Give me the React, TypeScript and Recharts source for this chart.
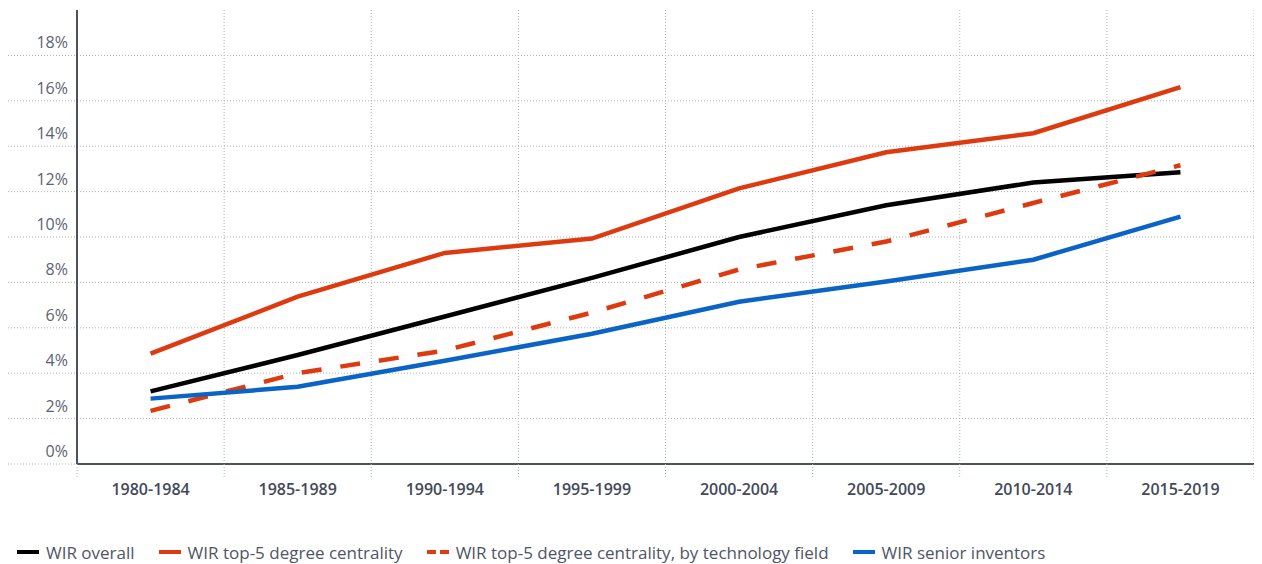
import React from 'react';
import { LineChart, Line, XAxis, YAxis, CartesianGrid, ReferenceLine } from 'recharts';

const periods = ['1980-1984', '1985-1989', '1990-1994', '1995-1999', '2000-2004', '2005-2009', '2010-2014', '2015-2019'];

const wirOverall = [3.2, 4.8, 6.5, 8.2, 10.0, 11.4, 12.4, 12.85];
const wirTop5 = [4.86, 7.37, 9.3, 9.93, 12.14, 13.73, 14.57, 16.6];
const wirTop5ByField = [2.34, 4.0, 5.0, 6.67, 8.57, 9.8, 11.5, 13.16];
const wirSenior = [2.88, 3.4, 4.55, 5.74, 7.15, 8.04, 9.0, 10.9];

const yTicks = [0, 2, 4, 6, 8, 10, 12, 14, 16, 18];

const series = [
  { key: 'overall', name: 'WIR overall', color: '#000000', dash: undefined },
  { key: 'top5', name: 'WIR top-5 degree centrality', color: '#de3a10', dash: undefined },
  { key: 'top5field', name: 'WIR top-5 degree centrality, by technology field', color: '#de3a10', dash: '20 19' },
  { key: 'senior', name: 'WIR senior inventors', color: '#0a64c6', dash: undefined },
];

// points sit in the middle of each period band, band edges are the integers
const data = periods.map((p, i) => ({
  pos: i + 0.5,
  period: p,
  overall: wirOverall[i],
  top5: wirTop5[i],
  top5field: wirTop5ByField[i],
  senior: wirSenior[i],
}));

const bandEdges = periods.map((_, i) => i).concat(periods.length);
const xTicks = bandEdges.concat(periods.map((_, i) => i + 0.5)).sort((a, b) => a - b);

const FONT = '"Open Sans", "Noto Sans", sans-serif';
const GRID = '#aeb2b9';
const AXIS = '#4b5263';

const YTick = (props: any) => {
  const { x, y, payload } = props;
  return (
    <text x={x + 60} y={y - 7} textAnchor="end" fill="#5d6372" fontSize={16} fontFamily={FONT}>
      {payload.value}%
    </text>
  );
};

// integer ticks = band edges (short dotted mark), half ticks = period label
const XTick = (props: any) => {
  const { x, y, payload } = props;
  const v = payload.value as number;
  if (Number.isInteger(v)) {
    return <line x1={x} x2={x} y1={y} y2={y + 13} stroke={GRID} strokeDasharray="1 2" />;
  }
  return (
    <text x={x} y={y + 20} dy="0.71em" textAnchor="middle" fill="#434a59" fontSize={16} fontWeight={600} fontFamily={FONT}>
      {periods[Math.floor(v)]}
    </text>
  );
};

const LegendIcon = ({ color, dash }: { color: string; dash?: string }) => (
  <svg width={22} height={6} style={{ marginRight: 7 }}>
    <line x1={0} y1={3} x2={22} y2={3} stroke={color} strokeWidth={4} strokeDasharray={dash ? '9 4' : undefined} />
  </svg>
);

const App: React.FC = () => {
  return (
    <div style={{ width: 1262, fontFamily: FONT }}>
      <LineChart width={1254} height={500} data={data} margin={{ top: 2, right: 0, left: 0, bottom: 0 }}>
        <CartesianGrid vertical={false} stroke={GRID} strokeDasharray="1 2" horizontalValues={yTicks} />
        {bandEdges.slice(1).map((e) => (
          <ReferenceLine key={e} x={e} stroke={GRID} strokeDasharray="1 2" ifOverflow="visible" />
        ))}
        <XAxis
          type="number"
          dataKey="pos"
          domain={[0, periods.length]}
          ticks={xTicks}
          interval={0}
          axisLine={{ stroke: AXIS, strokeWidth: 2 }}
          tickLine={false}
          tickSize={0}
          tickMargin={0}
          tick={<XTick />}
          height={44}
        />
        <YAxis
          domain={[0, 20]}
          ticks={yTicks}
          interval={0}
          width={69}
          tickSize={69}
          tickMargin={0}
          tickLine={{ stroke: GRID, strokeDasharray: '1 2' }}
          axisLine={{ stroke: AXIS, strokeWidth: 2 }}
          tick={<YTick />}
        />
        <YAxis
          yAxisId="right"
          orientation="right"
          domain={[0, 20]}
          ticks={yTicks}
          interval={0}
          width={8}
          tickSize={8}
          tickMargin={0}
          tickLine={{ stroke: GRID, strokeDasharray: '1 2' }}
          axisLine={false}
          tick={() => <g />}
        />
        {series.map((s) => (
          <Line
            key={s.key}
            type="linear"
            dataKey={s.key}
            name={s.name}
            stroke={s.color}
            strokeWidth={4.5}
            strokeDasharray={s.dash}
            dot={false}
            activeDot={false}
            isAnimationActive={false}
          />
        ))}
      </LineChart>
      <div style={{ display: 'flex', alignItems: 'center', marginTop: 32, paddingLeft: 9, height: 24 }}>
        {series.map((s) => (
          <div key={s.key} style={{ display: 'flex', alignItems: 'center', marginRight: 24, fontSize: 17, color: '#4f5565' }}>
            <LegendIcon color={s.color} dash={s.dash} />
            <span>{s.name}</span>
          </div>
        ))}
      </div>
    </div>
  );
};

export default App;
